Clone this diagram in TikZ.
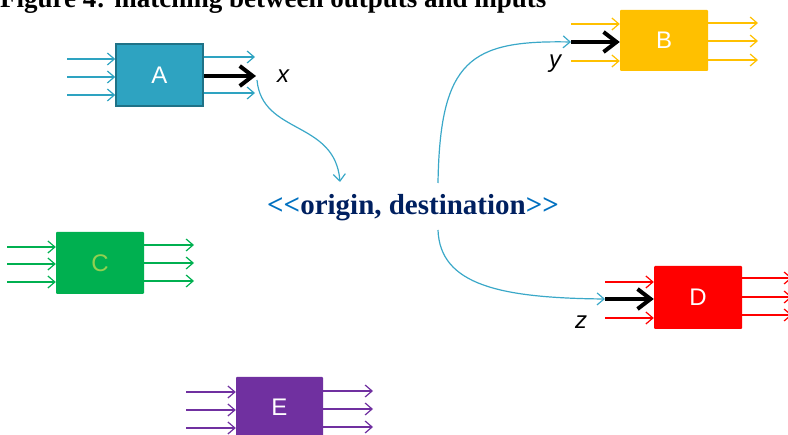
\documentclass[tikz,border=0pt]{standalone}
\usepackage{fontspec}
\setmainfont{Liberation Serif}
\setsansfont{Liberation Sans}
\usetikzlibrary{arrows.meta}
\definecolor{cA}{HTML}{2EA3C1}
\definecolor{cAd}{HTML}{1F7287}
\definecolor{cB}{HTML}{FFC000}
\definecolor{cC}{HTML}{00B050}
\definecolor{cCt}{HTML}{92D050}
\definecolor{cD}{HTML}{FF0000}
\definecolor{cE}{HTML}{7030A0}
\definecolor{linkc}{HTML}{3AA8C8}
\definecolor{navy}{HTML}{002060}
\definecolor{lblue}{HTML}{0070C0}
\begin{document}
\begin{tikzpicture}[x=1pt,y=-1pt,
  box/.style={draw=none, minimum width=88pt, minimum height=62pt, inner sep=0pt,
    font=\sffamily\fontsize{24}{24}\selectfont, text=white, rounded corners=1pt},
  stub/.style={line width=1.2pt, -{Straight Barb[length=7pt,width=12pt,line width=1.2pt]}},
  big/.style={line width=4pt, black, -{Straight Barb[length=13pt,width=20pt,line width=4pt]}},
  link/.style={draw=linkc, line width=1.2pt, -{Straight Barb[length=7pt,width=12pt,line width=1.2pt]}},
  lbl/.style={font=\sffamily\itshape\fontsize{24}{24}\selectfont, inner sep=0pt}]
\useasboundingbox (0,0) rectangle (788,435);

% title
\node[anchor=base west, inner sep=0pt, font=\fontsize{27}{27}\selectfont\bfseries] (title) at (0,8)
  {Figure 4: matching between outputs and inputs};

% boxes
\node[box, fill=cA, draw=cAd, line width=1.5pt, minimum width=87pt, rounded corners=0pt] (A) at (159.5,75) {A};
\node[box, fill=cB, minimum height=61pt] (B) at (664,40.5) {B};
\node[box, fill=cC, text=cCt] (C) at (100,263) {C};
\node[box, fill=cD, minimum height=63pt] (D) at (698,297.5) {D};
\node[box, fill=cE, minimum width=87pt, minimum height=61pt] (E) at (279.5,407.5) {E};

% centre text
\node[anchor=base west, inner sep=0pt, font=\fontsize{29}{29}\selectfont\bfseries, text=navy] (mid) at (267,215)
  {\textcolor{lblue}{<{}<}origin, destination\textcolor{lblue}{>{}>}};

% labels
\node[lbl] (lx) at (283,76) {x};
\node[lbl] (ly) at (555,64) {y};
\node[lbl] (lz) at (581,322) {z};

% named points
\coordinate (xa) at (256,76);
\coordinate (yb) at (571,42);
\coordinate (zd) at (605,299);
\coordinate (m1) at (340,182);
\coordinate (m2) at (438,183);
\coordinate (m3) at (438,230);

% A stubs
\draw[stub, cA] (67,59) -- ([yshift=16pt]A.west);
\draw[stub, cA] (67,77) -- ([yshift=-2pt]A.west);
\draw[stub, cA] (67,95) -- ([yshift=-20pt]A.west);
\draw[stub, cA] ([yshift=18pt]A.east) -- (255,57);
\draw[stub, cA] ([yshift=-18pt]A.east) -- (255,93);
\draw[big] ([yshift=-1pt]A.east) -- (xa);

% B stubs
\draw[stub, cB] (571,24) -- ([yshift=16.5pt]B.west);
\draw[stub, cB] (571,61) -- ([yshift=-20.5pt]B.west);
\draw[stub, cB] ([yshift=17.5pt]B.east) -- (758,23);
\draw[stub, cB] ([yshift=-0.5pt]B.east) -- (758,41);
\draw[stub, cB] ([yshift=-19.5pt]B.east) -- (758,60);
\draw[big] (yb) -- ([yshift=-1.5pt]B.west);

% C stubs
\draw[stub, cC] (7,247) -- ([yshift=16pt]C.west);
\draw[stub, cC] (7,264) -- ([yshift=-1pt]C.west);
\draw[stub, cC] (7,282) -- ([yshift=-19pt]C.west);
\draw[stub, cC] ([yshift=18pt]C.east) -- (194,245);
\draw[stub, cC] (C.east) -- (194,263);
\draw[stub, cC] ([yshift=-18pt]C.east) -- (194,281);

% D stubs
\draw[stub, cD] (605,282) -- ([yshift=15.5pt]D.west);
\draw[stub, cD] (605,318) -- ([yshift=-20.5pt]D.west);
\draw[stub, cD] ([yshift=19.5pt]D.east) -- (792,278);
\draw[stub, cD] ([yshift=0.5pt]D.east) -- (792,297);
\draw[stub, cD] ([yshift=-17.5pt]D.east) -- (792,315);
\draw[big] (zd) -- ([yshift=-1.5pt]D.west);

% E stubs
\draw[stub, cE] (186,392) -- ([yshift=15.5pt]E.west);
\draw[stub, cE] (186,410) -- ([yshift=-2.5pt]E.west);
\draw[stub, cE] (186,428) -- ([yshift=-20.5pt]E.west);
\draw[stub, cE] ([yshift=16.5pt]E.east) -- (373,391);
\draw[stub, cE] ([yshift=-1.5pt]E.east) -- (373,409);
\draw[stub, cE] ([yshift=-19.5pt]E.east) -- (373,427);

% links
\draw[link] (xa) ++(1,4) .. controls (262,135) and (335,120) .. (m1);
\draw[link] (m2) .. controls (440,60) and (470,40) .. (yb);
\draw[link] (m3) .. controls (440,285) and (500,298) .. (zd);
\end{tikzpicture}
\end{document}
